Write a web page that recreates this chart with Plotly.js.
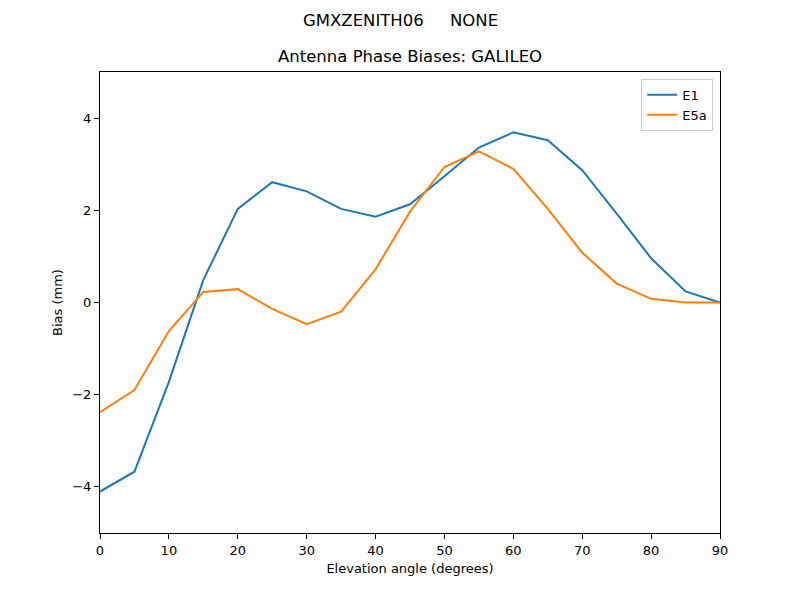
<!DOCTYPE html>
<html>
<head>
<meta charset="utf-8">
<script src="https://cdn.plot.ly/plotly-3.0.1.min.js"></script>
<style>html,body{margin:0;padding:0;background:#fff;}#chart{width:800px;height:600px;}</style>
</head>
<body>
<div id="chart"></div>
<script>
const elevation = [0, 5, 10, 15, 20, 25, 30, 35, 40, 45, 50, 55, 60, 65, 70, 75, 80, 85, 90];
const e1 = [-4.10, -3.67, -1.72, 0.49, 2.03, 2.61, 2.41, 2.03, 1.86, 2.13, 2.74, 3.36, 3.69, 3.52, 2.87, 1.93, 0.96, 0.24, 0.0];
const e5a = [-2.38, -1.90, -0.62, 0.23, 0.29, -0.14, -0.47, -0.20, 0.72, 1.97, 2.94, 3.28, 2.90, 2.03, 1.08, 0.41, 0.08, 0.0, 0.0];
const seriesNames = ['E1', 'E5a'];
const suptitle = 'GMXZENITH06\u00a0\u00a0\u00a0\u00a0\u00a0NONE';
const axTitle = 'Antenna Phase Biases: GALILEO';

const font = {family: 'DejaVu Sans', size: 13, color: '#000'};
const traces = [
  {x: elevation, y: e1, name: seriesNames[0], mode: 'lines', line: {color: '#1f77b4', width: 2}},
  {x: elevation, y: e5a, name: seriesNames[1], mode: 'lines', line: {color: '#ff7f0e', width: 2}}
];
const axisCommon = {
  showgrid: false, zeroline: false, showline: true, linecolor: '#000', linewidth: 1,
  mirror: true, ticks: 'outside', ticklen: 5, tickwidth: 1, tickcolor: '#000',
  tickfont: {family: 'DejaVu Sans', size: 13, color: '#000'}
};
const layout = {
  width: 800, height: 600,
  margin: {l: 100, r: 80, t: 72, b: 67},
  paper_bgcolor: '#fff', plot_bgcolor: '#fff',
  font: font,
  showlegend: true,
  legend: {x: 0.989, y: 0.985, xanchor: 'right', yanchor: 'top', bgcolor: 'rgba(255,255,255,0.8)',
           bordercolor: '#cccccc', borderwidth: 1, tracegroupgap: 0,
           font: {family: 'DejaVu Sans', size: 13, color: '#000'}},
  xaxis: Object.assign({}, axisCommon, {range: [0, 90], tick0: 0, dtick: 10,
    title: {text: 'Elevation angle (degrees)', font: font, standoff: 7}}),
  yaxis: Object.assign({}, axisCommon, {range: [-5, 5], tick0: 0, dtick: 2,
    title: {text: 'Bias (mm)', font: font, standoff: 6}}),
  annotations: [
    {text: suptitle, xref: 'paper', yref: 'paper', x: (400 - 100) / 620, y: 1, yshift: 52,
     xanchor: 'center', yanchor: 'middle', showarrow: false,
     font: {family: 'DejaVu Sans', size: 16.5, color: '#000'}},
    {text: axTitle, xref: 'paper', yref: 'paper', x: 0.5, y: 1, xanchor: 'center', yanchor: 'bottom',
     yshift: 4, showarrow: false, font: {family: 'DejaVu Sans', size: 16.5, color: '#000'}}
  ]
};
Plotly.newPlot('chart', traces, layout, {displayModeBar: false});
</script>
</body>
</html>
